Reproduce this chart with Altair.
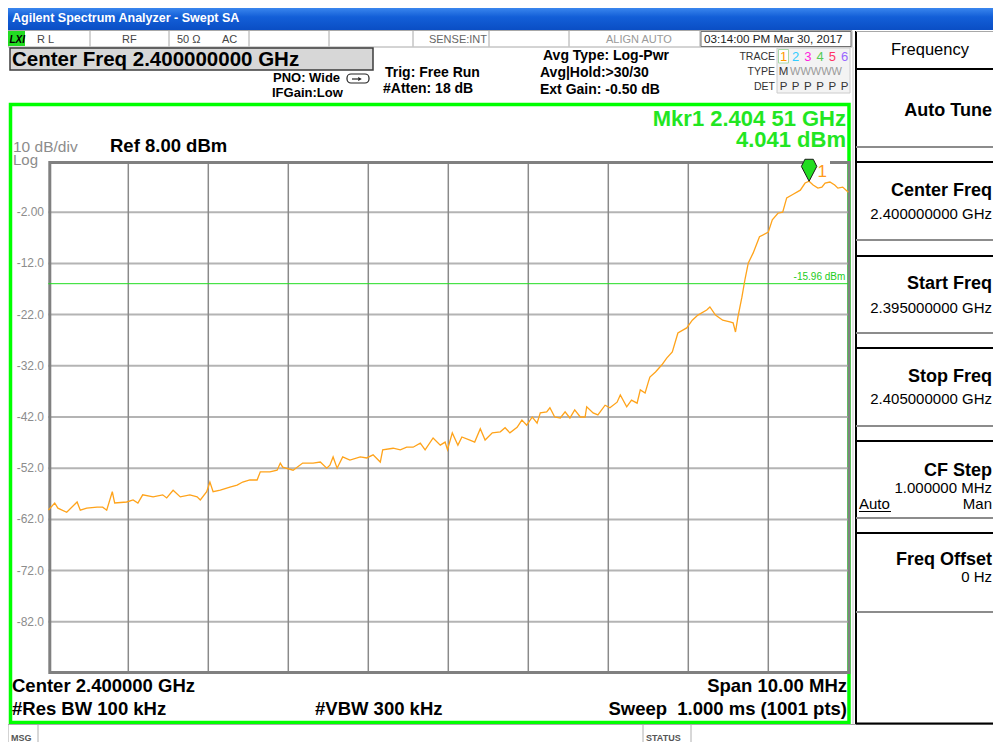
import altair as alt
import pandas as pd

# ---------------- data ----------------
freq_ghz = [
    2.39500, 2.39508, 2.39512, 2.39523, 2.39536, 2.39540, 2.39548, 2.39561, 2.39568, 2.39573,
    2.39580, 2.39583, 2.39598, 2.39606, 2.39612, 2.39618, 2.39631, 2.39643, 2.39648, 2.39656,
    2.39665, 2.39677, 2.39686, 2.39690, 2.39698, 2.39702, 2.39706, 2.39715, 2.39727, 2.39736,
    2.39743, 2.39752, 2.39761, 2.39765, 2.39777, 2.39786, 2.39790, 2.39793, 2.39806, 2.39818,
    2.39831, 2.39840, 2.39848, 2.39852, 2.39856, 2.39861, 2.39868, 2.39877, 2.39890, 2.39898,
    2.39906, 2.39915, 2.39918, 2.39931, 2.39940, 2.39948, 2.39956, 2.39965, 2.39971, 2.39981,
    2.39990, 2.39996, 2.39999, 2.40005, 2.40012, 2.40017, 2.40027, 2.40033, 2.40040, 2.40046,
    2.40055, 2.40065, 2.40071, 2.40077, 2.40086, 2.40092, 2.40098, 2.40105, 2.40111, 2.40115,
    2.40123, 2.40127, 2.40133, 2.40140, 2.40146, 2.40152, 2.40158, 2.40165, 2.40171, 2.40173,
    2.40181, 2.40187, 2.40196, 2.40202, 2.40211, 2.40215, 2.40223, 2.40229, 2.40236, 2.40240,
    2.40246, 2.40250, 2.40252, 2.40259, 2.40267, 2.40273, 2.40280, 2.40287, 2.40298, 2.40305,
    2.40312, 2.40323, 2.40327, 2.40334, 2.40343, 2.40352, 2.40356, 2.40359, 2.40362, 2.40367,
    2.40371, 2.40375, 2.40381, 2.40389, 2.40400, 2.40405, 2.40412, 2.40418, 2.40423, 2.40430,
    2.40440, 2.40446, 2.40451, 2.40456, 2.40462, 2.40467, 2.40471, 2.40477, 2.40483, 2.40487,
    2.40493, 2.40500,
]
level_dbm = [
    -60.2, -58.8, -59.8, -60.6, -58.6, -60.2, -59.8, -59.6, -59.6, -60.2,
    -56.6, -58.8, -58.6, -58.2, -58.8, -57.2, -57.6, -57.2, -57.8, -56.3,
    -57.6, -57.2, -57.6, -58.2, -56.6, -54.7, -56.6, -56.3, -55.7, -55.3,
    -54.7, -54.3, -54.3, -52.7, -52.7, -52.4, -51.0, -51.8, -52.4, -51.0,
    -51.0, -50.8, -52.0, -51.4, -49.8, -52.0, -49.8, -50.4, -49.8, -50.0,
    -49.4, -50.8, -48.4, -48.1, -48.4, -47.9, -47.9, -47.1, -48.4, -46.1,
    -47.5, -46.9, -48.4, -45.1, -47.5, -45.9, -46.5, -46.9, -44.3, -46.5,
    -45.1, -44.9, -44.1, -45.1, -44.0, -42.6, -43.6, -42.0, -43.2, -41.2,
    -41.0, -40.2, -42.0, -42.2, -41.0, -42.2, -40.6, -42.0, -42.0, -40.0,
    -41.2, -41.6, -39.7, -40.2, -39.1, -37.7, -40.0, -38.7, -39.3, -36.7,
    -37.3, -35.2, -34.2, -33.2, -31.8, -30.5, -29.3, -25.6, -24.6, -23.1,
    -22.1, -21.1, -20.5, -22.1, -23.1, -23.4, -23.6, -25.4, -22.5, -18.6,
    -15.0, -11.9, -10.0, -6.8, -5.9, -3.5, -2.2, -2.0, 0.8, 1.4,
    2.3, 3.7, 4.041, 3.3, 2.7, 2.9, 3.7, 3.9, 3.3, 2.7,
    2.9, 1.9,
]
grid_freq_ghz = [2.396, 2.397, 2.398, 2.399, 2.400, 2.401, 2.402, 2.403, 2.404]
grid_level_dbm = [-2, -12, -22, -32, -42, -52, -62, -72, -82]
start_ghz, stop_ghz = 2.395, 2.405
ref_dbm, bottom_dbm = 8.0, -92.0
display_line_dbm = -15.96
marker_ghz, marker_dbm = 2.40451, 4.041
trace_digits = ["1", "2", "3", "4", "5", "6"]
trace_colors = ["#ff9900", "#33ccff", "#ff22dd", "#55cc55", "#ff3366", "#9966ff"]
softkey_labels = ["Auto Tune", "Center Freq", "Start Freq", "Stop Freq", "CF Step", "Freq Offset"]
softkey_values = ["", "2.400000000 GHz", "2.395000000 GHz", "2.405000000 GHz", "1.000000 MHz", "0 Hz"]
status_cells = ["R L", "RF", "50 Ω", "AC"]

# ---------------- helpers ----------------
M = 8  # page margin
ONE = pd.DataFrame({"k": [0]})
FONT = "Liberation Sans"
GREEN = "#22e622"


def rect(x1, y1, x2, y2, **props):
    return alt.Chart(ONE).mark_rect(**props).encode(
        x=alt.value(x1 - M), x2=alt.value(x2 - M),
        y=alt.value(y1 - M), y2=alt.value(y2 - M))


def seg(x1, y1, x2, y2, color, width=1.0):
    return alt.Chart(ONE).mark_rule(color=color, strokeWidth=width).encode(
        x=alt.value(x1 - M), x2=alt.value(x2 - M),
        y=alt.value(y1 - M), y2=alt.value(y2 - M))


def text(x, y, s, size, color="#000000", weight="normal", align="left", **props):
    return alt.Chart(ONE).mark_text(
        text=s, fontSize=size, color=color, fontWeight=weight, align=align,
        baseline="alphabetic", font=props.pop("font", FONT), **props
    ).encode(x=alt.value(x - M), y=alt.value(y - M))


L = []

# ---------------- window chrome ----------------
title_grad = alt.Gradient(
    gradient="linear",
    stops=[alt.GradientStop(color="#3a86ee", offset=0),
           alt.GradientStop(color="#135fd8", offset=0.4),
           alt.GradientStop(color="#0a4ec4", offset=1)],
    x1=0, x2=0, y1=0, y2=1)
L.append(rect(8, 8, 1001, 30, fill=title_grad))
L.append(text(12, 22, "Agilent Spectrum Analyzer - Swept SA", 12.5, "#ffffff", "bold"))

# status row
L.append(rect(8, 30.5, 852, 47, fill="#ffffff", stroke="#a8a8a8", strokeWidth=1))
for sx in [90, 169, 249, 329, 413, 489, 569, 700]:
    L.append(seg(sx, 31, sx, 46.5, "#a8a8a8", 1))
L.append(rect(701, 31.5, 851, 46.5, fill="#ffffff", stroke="#707070", strokeWidth=1))
L.append(rect(8, 31, 25, 46, fill="#22dd22"))
L.append(text(9.5, 43, "LXI", 10, "#000000", "bold", fontStyle="italic"))
for sx, s in zip([37, 122, 177, 222], status_cells):
    L.append(text(sx, 43, s, 11, "#444444"))
L.append(text(487, 43, "SENSE:INT", 11, "#666666", align="right"))
L.append(text(606, 43, "ALIGN AUTO", 11, "#9a9a9a"))
L.append(text(704, 43, "03:14:00 PM Mar 30, 2017", 11.7, "#222222"))

# info block
L.append(rect(10, 48, 373, 70, fill="#d7d7d7", stroke="#3c3c3c", strokeWidth=1.5))
L.append(text(12, 66, "Center Freq 2.400000000 GHz", 20.5, "#000000", "bold"))
L.append(text(273, 82, "PNO: Wide", 13, "#000000", "bold"))
L.append(text(272, 97, "IFGain:Low", 13, "#000000", "bold"))
L.append(rect(347, 74, 369, 83, fill="#ffffff", stroke="#222222", strokeWidth=1.2, cornerRadius=4))
L.append(seg(352, 79, 358, 79, "#222222", 1.2))
L.append(alt.Chart(ONE).mark_point(shape="triangle-right", size=18, filled=True, color="#222222", opacity=1)
         .encode(x=alt.value(360 - M), y=alt.value(79 - M)))
L.append(text(385, 77, "Trig: Free Run", 14, "#000000", "bold"))
L.append(text(383, 93, "#Atten: 18 dB", 14, "#000000", "bold"))
L.append(text(543, 60, "Avg Type: Log-Pwr", 14, "#000000", "bold"))
L.append(text(540, 77, "Avg|Hold:>30/30", 14, "#000000", "bold"))
L.append(text(540, 93.5, "Ext Gain: -0.50 dB", 14, "#000000", "bold"))

# trace / type / det block
L.append(rect(777, 48, 850, 93, fill="#f3f3f3", stroke="#cccccc", strokeWidth=1))
L.append(rect(778.5, 49.5, 788.5, 63, fill="#ffffff", stroke="#a8d8a8", strokeWidth=1))
L.append(text(775, 59.5, "TRACE", 10.5, "#333333", align="right"))
L.append(text(775, 75, "TYPE", 10.5, "#333333", align="right"))
L.append(text(775, 90, "DET", 10.5, "#333333", align="right"))
for i, (d, c) in enumerate(zip(trace_digits, trace_colors)):
    cx = 783.5 + i * 12.2
    L.append(text(cx, 61, d, 13, c, align="center"))
    L.append(text(cx, 90, "P", 11.5, "#333333", align="center"))
L.append(text(783.5, 75, "M", 11.5, "#333333", align="center"))
L.append(text(790, 75, "WWWWW", 11, "#9a9a9a"))

# green screen frame
L.append(rect(10.5, 104.5, 849, 722.5, fillOpacity=0, stroke="#00ff00", strokeWidth=3.5))

# marker readout
mk_s = f"{marker_ghz:.5f}"
L.append(text(846, 125.5, f"Mkr1 {mk_s[:5]} {mk_s[5:]} GHz", 22, GREEN, "bold", align="right"))
L.append(text(846, 147, f"{marker_dbm:.3f} dBm", 22, GREEN, "bold", align="right"))
L.append(text(13, 151.5, "10 dB/div", 15.5, "#8c8c8c"))
L.append(text(13, 165, "Log", 15, "#8c8c8c"))
L.append(text(110, 152, f"Ref {ref_dbm:.2f} dBm", 18.5, "#000000", "bold"))

# ---------------- plot area ----------------
xs = alt.Scale(domain=[start_ghz, stop_ghz], range=[48.3 - M, 848.3 - M], nice=False, zero=False)
ys = alt.Scale(domain=[bottom_dbm, ref_dbm], range=[673 - M, 161 - M], nice=False, zero=False)

hgrid_df = pd.DataFrame({"lvl": grid_level_dbm, "f0": start_ghz, "f1": stop_ghz,
                         "lab": [f"{v:#.3g}" for v in grid_level_dbm]})
L.append(alt.Chart(hgrid_df).mark_rule(color="#b4b4b4", strokeWidth=2).encode(
    x=alt.X("f0:Q", scale=xs, axis=None), x2="f1:Q",
    y=alt.Y("lvl:Q", scale=ys, axis=None)))
# y tick labels
L.append(alt.Chart(hgrid_df).mark_text(
    align="right", baseline="middle", fontSize=12, font=FONT, color="#8c8c8c").encode(
    x=alt.value(44 - M), y=alt.Y("lvl:Q", scale=ys, axis=None), text="lab:N"))

vgrid_df = pd.DataFrame({"f": grid_freq_ghz, "top": ref_dbm, "bot": bottom_dbm})
L.append(alt.Chart(vgrid_df).mark_rule(color="#8a8a8a", strokeWidth=1.5).encode(
    x=alt.X("f:Q", scale=xs, axis=None),
    y=alt.Y("top:Q", scale=ys, axis=None), y2="bot:Q"))

# plot border
L.append(rect(49.8, 162.5, 849, 672.5, fillOpacity=0, stroke="#808080", strokeWidth=3))
L.append(rect(803, 158, 830, 165.5, fill="#ffffff"))

# display line
dl_df = pd.DataFrame({"lvl": [display_line_dbm], "f0": [start_ghz], "f1": [stop_ghz]})
L.append(alt.Chart(dl_df).mark_rule(color="#22dd22", strokeWidth=1).encode(
    x=alt.X("f0:Q", scale=xs, axis=None), x2="f1:Q",
    y=alt.Y("lvl:Q", scale=ys, axis=None)))
L.append(alt.Chart(dl_df).mark_text(
    align="right", baseline="alphabetic", dx=-3, dy=-3.5, fontSize=10, font=FONT,
    color="#22cc22", text=f"{display_line_dbm:.2f} dBm").encode(
    x=alt.X("f1:Q", scale=xs, axis=None), y=alt.Y("lvl:Q", scale=ys, axis=None)))

# trace
trace_df = pd.DataFrame({"f": freq_ghz, "v": level_dbm})
L.append(alt.Chart(trace_df).mark_line(color="#ffa31a", strokeWidth=1.3).encode(
    x=alt.X("f:Q", scale=xs, axis=None), y=alt.Y("v:Q", scale=ys, axis=None)))

# marker
mk_df = pd.DataFrame({"f": [marker_ghz], "v": [marker_dbm]})
PIN = "M-0.38,-1 L0.38,-1 L0.7,-0.35 L0,1 L-0.7,-0.35 Z"
L.append(alt.Chart(mk_df).mark_point(
    shape=PIN, size=484, filled=True, fill="#22dd22", stroke="#1a1a1a", strokeWidth=1,
    opacity=1, yOffset=-11).encode(
    x=alt.X("f:Q", scale=xs, axis=None), y=alt.Y("v:Q", scale=ys, axis=None)))
L.append(alt.Chart(mk_df).mark_text(
    text="1", align="left", baseline="alphabetic", dx=8.5, dy=-4, fontSize=17, font=FONT,
    color="#ff9a1a").encode(
    x=alt.X("f:Q", scale=xs, axis=None), y=alt.Y("v:Q", scale=ys, axis=None)))

# bottom annotations
L.append(text(12, 692, "Center 2.400000 GHz", 18.5, "#000000", "bold"))
L.append(text(12, 714.5, "#Res BW 100 kHz", 18.5, "#000000", "bold"))
L.append(text(315, 714.5, "#VBW 300 kHz", 18.5, "#000000", "bold"))
L.append(text(847, 692, "Span 10.00 MHz", 18.5, "#000000", "bold", align="right"))
L.append(text(847, 714.5, "Sweep\u00a0\u00a01.000 ms (1001 pts)", 18.5, "#000000", "bold", align="right"))

# status bar at the bottom
L.append(rect(8, 724.5, 1001, 752, fill="#ffffff", stroke="#a8a8a8", strokeWidth=1))
for sx in [38, 643, 691]:
    L.append(seg(sx, 725, sx, 752, "#b0b0b0", 1))
L.append(text(11, 741, "MSG", 9, "#555555", "bold"))
L.append(text(646, 741, "STATUS", 9, "#555555", "bold"))

# ---------------- soft-key panel ----------------
L.append(rect(856, 31, 1001, 724, fill="#ffffff"))
L.append(seg(853, 47, 853, 724, "#c8c8c8", 1))
L.append(seg(856, 31, 856, 724, "#000000", 2))
L.append(seg(856, 31.5, 1001, 31.5, "#a8a8a8", 1))
L.append(seg(856, 723.5, 1001, 723.5, "#000000", 2))
L.append(text(930, 55, "Frequency", 16.5, "#000000", align="center"))
tops = [69, 162, 256, 348, 441, 533]
bots = [147, 240, 333, 426, 518, 612]
label_y = [116, 196, 289, 382, 476, 565]
value_y = [0, 219, 313, 404, 493, 582]
for t, b, lab, val, ly, vy in zip(tops, bots, softkey_labels, softkey_values, label_y, value_y):
    L.append(seg(856, t, 1001, t, "#000000", 2))
    L.append(seg(856, b, 1001, b, "#8c8c8c", 2))
    L.append(text(992, ly, lab, 18, "#000000", "bold", align="right"))
    if val:
        L.append(text(992, vy, val, 15, "#000000", align="right"))
L.append(text(859, 508.5, "Auto", 15, "#000000"))
L.append(seg(859, 511.5, 891, 511.5, "#000000", 1))
L.append(text(992, 508.5, "Man", 15, "#000000", align="right"))

chart = alt.layer(*L).properties(
    width=985, height=734, padding=0, background="#ffffff",
    autosize=alt.AutoSizeParams(type="none"),
).configure_view(strokeWidth=0)

chart.save("out.html", embed_options={"renderer": "svg", "actions": False})
